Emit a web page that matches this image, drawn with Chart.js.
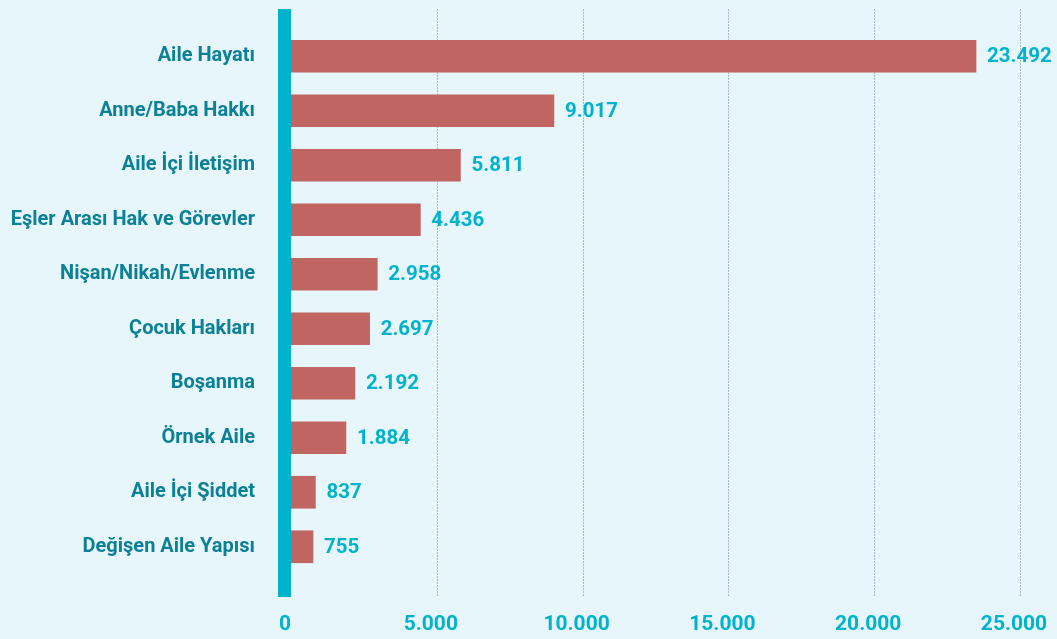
<!DOCTYPE html>
<html>
<head>
<meta charset="utf-8">
<script src="https://cdn.jsdelivr.net/npm/chart.js@4.4.1/dist/chart.umd.min.js"></script>
<style>
  html, body { margin: 0; padding: 0; background: #e7f6fa; }
  #wrap { width: 1057px; height: 639px; }
</style>
</head>
<body>
<div id="wrap"><canvas id="topicChart" width="1057" height="639"></canvas></div>
<script>
// Data
const categories = [
    'Aile Hayatı', 'Anne/Baba Hakkı', 'Aile İçi İletişim', 'Eşler Arası Hak ve Görevler',
    'Nişan/Nikah/Evlenme', 'Çocuk Hakları', 'Boşanma', 'Örnek Aile',
    'Aile İçi Şiddet', 'Değişen Aile Yapısı'
];
const counts = [23492, 9017, 5811, 4436, 2958, 2697, 2192, 1884, 837, 755];
const xTicks = [0, 5000, 10000, 15000, 20000, 25000];

const BAR = '#c06562';
const CYAN = '#00b3cd';
const TEAL = '#0b8096';

// 23492 -> "23.492"
function fmt(v) {
    return String(v).replace(/\B(?=(\d{3})+(?!\d))/g, '.');
}

// dotted grid lines, the thick axis bar at zero and the value labels
const axisDecor = {
    id: 'axisDecor',
    beforeDatasetsDraw(chart) {
        const ctx = chart.ctx;
        const x = chart.scales.x;
        ctx.save();
        ctx.strokeStyle = '#a9bcc2';
        ctx.lineWidth = 1;
        ctx.setLineDash([2, 1]);
        xTicks.slice(1).forEach(v => {
            const px = Math.round(x.getPixelForValue(v)) + 0.5;
            ctx.beginPath();
            ctx.moveTo(px, 9);
            ctx.lineTo(px, 597);
            ctx.stroke();
        });
        ctx.restore();
    },
    afterDatasetsDraw(chart) {
        const ctx = chart.ctx;
        const zero = chart.scales.x.getPixelForValue(0);
        ctx.save();
        ctx.fillStyle = CYAN;
        ctx.fillRect(zero - 13, 9, 13, 588);

        ctx.font = 'bold 20.5px Roboto';
        ctx.fillStyle = CYAN;
        ctx.textAlign = 'left';
        ctx.textBaseline = 'middle';
        chart.getDatasetMeta(0).data.forEach((bar, i) => {
            ctx.fillText(fmt(counts[i]), bar.x + 11, bar.y + 1);
        });
        ctx.restore();
    }
};

const ctx = document.getElementById('topicChart').getContext('2d');
new Chart(ctx, {
    type: 'bar',
    data: {
        labels: categories,
        datasets: [{
            data: counts,
            backgroundColor: BAR,
            borderWidth: 0,
            barThickness: 32
        }]
    },
    options: {
        indexAxis: 'y',
        responsive: false,
        animation: false,
        layout: {
            padding: { top: 29, right: 37, bottom: 0, left: 0 }
        },
        scales: {
            x: {
                min: 0,
                max: 25000,
                afterBuildTicks: scale => {
                    scale.ticks = xTicks.map(v => ({ value: v }));
                },
                afterFit: scale => { scale.height = 65; },
                grid: { display: false, drawTicks: true, tickLength: 38 },
                border: { display: false },
                ticks: {
                    padding: 0,
                    labelOffset: -6,
                    color: CYAN,
                    font: { family: 'Roboto', weight: 'bold', size: 21 },
                    maxRotation: 0,
                    callback: v => fmt(v)
                }
            },
            y: {
                grid: { display: false, drawTicks: true, tickLength: 36 },
                border: { display: false },
                afterFit: scale => { scale.width = 291; },
                ticks: {
                    padding: 0,
                    color: TEAL,
                    font: { family: 'Roboto', weight: 'bold', size: 20 }
                }
            }
        },
        plugins: {
            legend: { display: false },
            tooltip: { enabled: false }
        }
    },
    plugins: [axisDecor]
});
</script>
</body>
</html>
